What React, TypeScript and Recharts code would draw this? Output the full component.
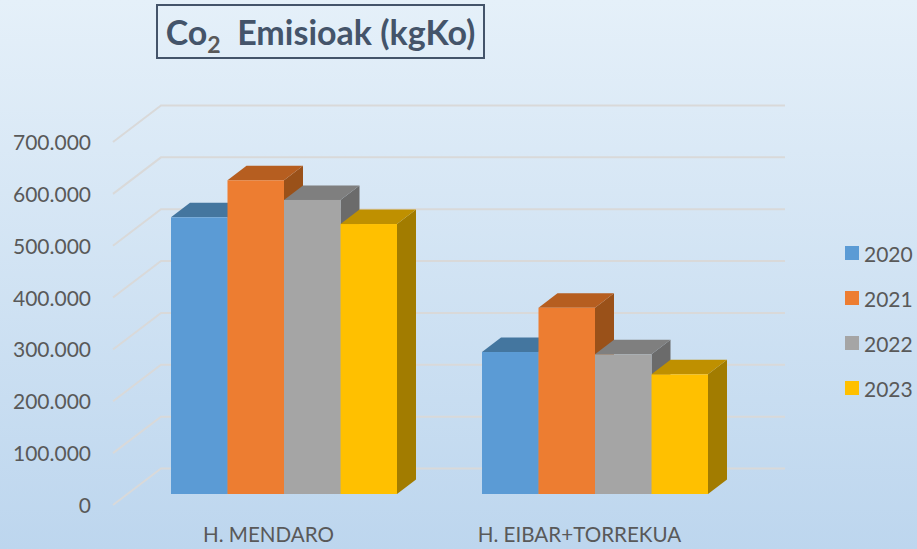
import React from 'react';
import { BarChart, Bar, XAxis, YAxis, CartesianGrid, Legend } from 'recharts';

const categories = ['H. MENDARO', 'H. EIBAR+TORREKUA'];
const years = ['2020', '2021', '2022', '2023'];
const values2020 = [533500, 273800];
const values2021 = [605000, 359200];
const values2022 = [567000, 269400];
const values2023 = [520600, 230800];
const yTicks = [0, 100000, 200000, 300000, 400000, 500000, 600000, 700000];

const frontColors = ['#5b9bd5', '#ed7d31', '#a5a5a5', '#ffc000'];
const topColors = ['#44769f', '#b65e20', '#7f7f7f', '#bf9000'];
const sideColors = ['#3a6488', '#9a5119', '#6b6b6b', '#a27c00'];

const FONT = 'Lato, sans-serif';
const TEXT = '#595959';
const DEPTH_X = 19;
const DEPTH_Y = 14.5;

const data = categories.map((name, i) => ({
  name,
  y2020: values2020[i],
  y2021: values2021[i],
  y2022: values2022[i],
  y2023: values2023[i],
}));

const bar3d = (top: string, side: string) => (props: any) => {
  const { x, y, width, height, fill } = props;
  const r = x + width;
  const b = y + height;
  return (
    <g>
      <polygon
        points={`${r},${y} ${r + DEPTH_X},${y - DEPTH_Y} ${r + DEPTH_X},${b - DEPTH_Y} ${r},${b}`}
        fill={side}
      />
      <polygon
        points={`${x},${y} ${x + DEPTH_X},${y - DEPTH_Y} ${r + DEPTH_X},${y - DEPTH_Y} ${r},${y}`}
        fill={top}
      />
      <rect x={x} y={y} width={width} height={height} fill={fill} />
    </g>
  );
};

// walls: the grid line comes off the front edge, then runs along the back wall
const wallLine = (props: any) => {
  const { y1, index } = props;
  const front = y1 + 11;
  const back = y1 - 25.5;
  return (
    <polyline
      key={index}
      points={`113,${front} 161,${back} 785,${back}`}
      fill="none"
      stroke="#d9d9d9"
      strokeWidth={2}
    />
  );
};

const YTick = (props: any) => {
  const { y, payload } = props;
  return (
    <text x={91} y={y + 19} textAnchor="end" fontFamily={FONT} fontSize={21} fill={TEXT}>
      {payload.value.toLocaleString('de-DE')}
    </text>
  );
};

const XTick = (props: any) => {
  const { x, payload } = props;
  return (
    <text x={x - 15} y={542} textAnchor="middle" fontFamily={FONT} fontSize={20.6} fill={TEXT}>
      {payload.value}
    </text>
  );
};

const LegendBox = (props: any) => (
  <div>
    {props.payload.map((item: any) => (
      <div key={item.value} style={{ height: 45, display: 'flex', alignItems: 'center' }}>
        <span style={{ width: 14, height: 14, background: item.color, marginRight: 5 }} />
        <span style={{ fontFamily: FONT, fontSize: 21, color: TEXT }}>{item.value}</span>
      </div>
    ))}
  </div>
);

export default function App() {
  return (
    <div
      style={{
        position: 'absolute',
        left: 0,
        top: 0,
        width: 917,
        height: 549,
        background: 'linear-gradient(to bottom, #e5f0f9, #bdd6ee)',
        overflow: 'hidden',
      }}
    >
      <div
        style={{
          position: 'absolute',
          left: 156,
          top: 4,
          width: 325,
          height: 51,
          border: '2px solid #44546a',
          fontFamily: 'Lato, sans-serif',
          fontWeight: 700,
          fontSize: 34,
          lineHeight: '51px',
          color: '#44546a',
          textAlign: 'center',
          whiteSpace: 'pre',
        }}
      >
        Co<sub style={{ fontSize: 23, lineHeight: 0, color: TEXT }}>2</sub>  Emisioak (kgKo)
      </div>
      <BarChart
        width={917}
        height={549}
        data={data}
        margin={{ top: 131, right: 167, bottom: 0, left: 0 }}
        barGap={0}
        barSize={56.5}
      >
        <CartesianGrid vertical={false} horizontal={wallLine} />
        <XAxis dataKey="name" height={55} axisLine={false} tickLine={false} tick={XTick} interval={0} />
        <YAxis
          width={128}
          domain={[0, 700000]}
          ticks={yTicks}
          axisLine={false}
          tickLine={false}
          tick={YTick}
          interval={0}
        />
        <Legend
          layout="vertical"
          align="center"
          verticalAlign="middle"
          wrapperStyle={{ left: 845, top: 230.5, width: 72 }}
          content={LegendBox}
        />
        {years.map((year, i) => (
          <Bar
            key={year}
            dataKey={`y${year}`}
            name={year}
            fill={frontColors[i]}
            isAnimationActive={false}
            shape={bar3d(topColors[i], sideColors[i])}
          />
        ))}
      </BarChart>
    </div>
  );
}
